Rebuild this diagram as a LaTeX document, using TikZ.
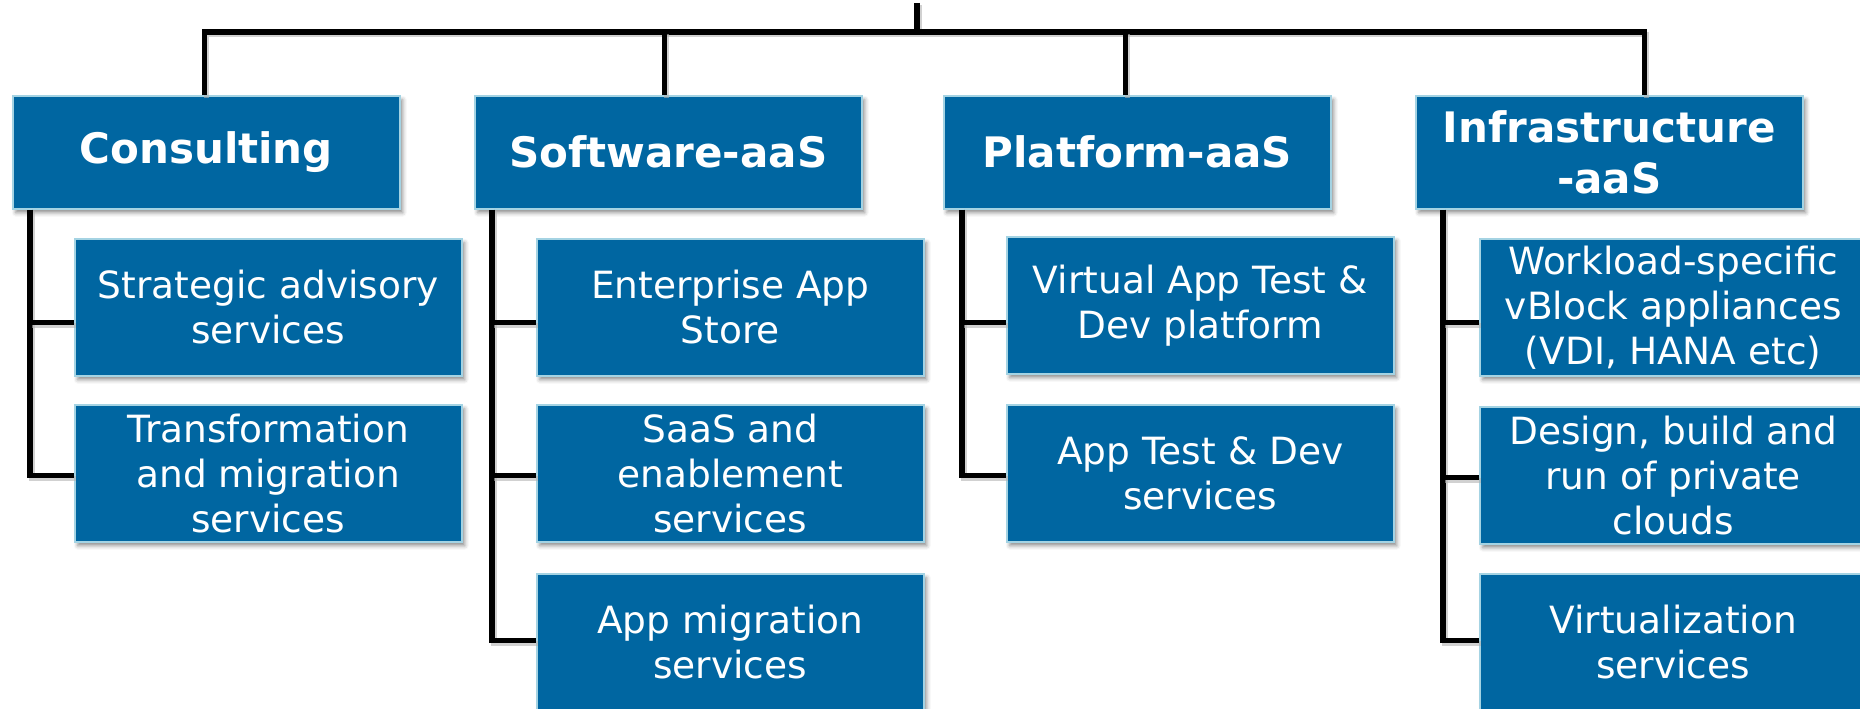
\documentclass[tikz,border=0pt]{standalone}
\usepackage{fontspec}
\setmainfont{DejaVu Sans}
\usetikzlibrary{shadows.blur}
\definecolor{boxblue}{HTML}{0066A1}
\definecolor{boxedge}{HTML}{A4D3E3}
\begin{document}
\begin{tikzpicture}[x=1pt,y=-1pt,
  basebox/.style={draw=boxedge, line width=1.5pt, fill=boxblue, text=white,
    align=center, anchor=north west, minimum width=387pt, inner sep=0pt,
    blur shadow={shadow xshift=3pt, shadow yshift=-4pt, shadow blur radius=4pt, shadow opacity=45}},
  hbox/.style={basebox, minimum height=113pt, font=\fontsize{42}{51}\selectfont\bfseries},
  cbox/.style={basebox, minimum height=137pt, font=\fontsize{37.5}{45}\selectfont},
  conn/.style={line width=5.2pt, black,
    preaction={draw=black!30, opacity=0.6, line width=5.2pt, transform canvas={shift={(2pt,-2.5pt)}}}}]
\useasboundingbox (0,0) rectangle (1860,709);

% header boxes
\node[hbox] (h1) at (12,95) {Consulting};
\node[hbox] (h2) at (474,95) {Software-aaS};
\node[hbox] (h3) at (943,95) {Platform-aaS};
\node[hbox] (h4) at (1415,95) {Infrastructure\\-aaS};

% child boxes
\node[cbox] (c11) at (74,238) {Strategic advisory\\services};
\node[cbox] (c12) at (74,404) {Transformation\\and migration\\services};
\node[cbox] (c21) at (536,238) {Enterprise App\\Store};
\node[cbox] (c22) at (536,404) {SaaS and\\enablement\\services};
\node[cbox] (c23) at (536,573) {App migration\\services};
\node[cbox] (c31) at (1006,236) {Virtual App Test \&\\Dev platform};
\node[cbox] (c32) at (1006,404) {App Test \& Dev\\services};
\node[cbox] (c41) at (1479,238) {Workload-specific\\vBlock appliances\\(VDI, HANA etc)};
\node[cbox] (c42) at (1479,406) {Design, build and\\run of private\\clouds};
\node[cbox] (c43) at (1479,573) {Virtualization\\services};

% top tree
\coordinate (root) at (917,3);
\coordinate (bar) at (917,32);
\coordinate (d1) at ([xshift=-1.5pt]h1.north);
\coordinate (d2) at ([xshift=-3.5pt]h2.north);
\coordinate (d3) at ([xshift=-11.5pt]h3.north);
\coordinate (d4) at ([xshift=35.5pt]h4.north);
\draw[conn] (root) -- (bar);
\draw[conn] (d1) |- (d4 |- bar) -- (d4);
\draw[conn] (d2) -- (d2 |- bar);
\draw[conn] (d3) -- (d3 |- bar);

% spines
\coordinate (s1) at ([xshift=18pt]h1.south west);
\coordinate (s2) at ([xshift=18pt]h2.south west);
\coordinate (s3) at ([xshift=19pt]h3.south west);
\coordinate (s4) at ([xshift=28pt]h4.south west);

\coordinate (b11) at ([yshift=-15.5pt]c11.west);
\coordinate (b12) at ([yshift=-2.5pt]c12.west);
\coordinate (b21) at ([yshift=-15.5pt]c21.west);
\coordinate (b22) at ([yshift=-2.5pt]c22.west);
\coordinate (b23) at ([yshift=1.5pt]c23.west);
\coordinate (b31) at ([yshift=-17.5pt]c31.west);
\coordinate (b32) at ([yshift=-2.5pt]c32.west);
\coordinate (b41) at ([yshift=-15.5pt]c41.west);
\coordinate (b42) at ([yshift=-2.5pt]c42.west);
\coordinate (b43) at ([yshift=1.5pt]c43.west);

\draw[conn] (s1) |- (b12);
\draw[conn] (s1 |- b11) -- (b11);
\draw[conn] (s2) |- (b23);
\draw[conn] (s2 |- b21) -- (b21);
\draw[conn] (s2 |- b22) -- (b22);
\draw[conn] (s3) |- (b32);
\draw[conn] (s3 |- b31) -- (b31);
\draw[conn] (s4) |- (b43);
\draw[conn] (s4 |- b41) -- (b41);
\draw[conn] (s4 |- b42) -- (b42);
\end{tikzpicture}
\end{document}
